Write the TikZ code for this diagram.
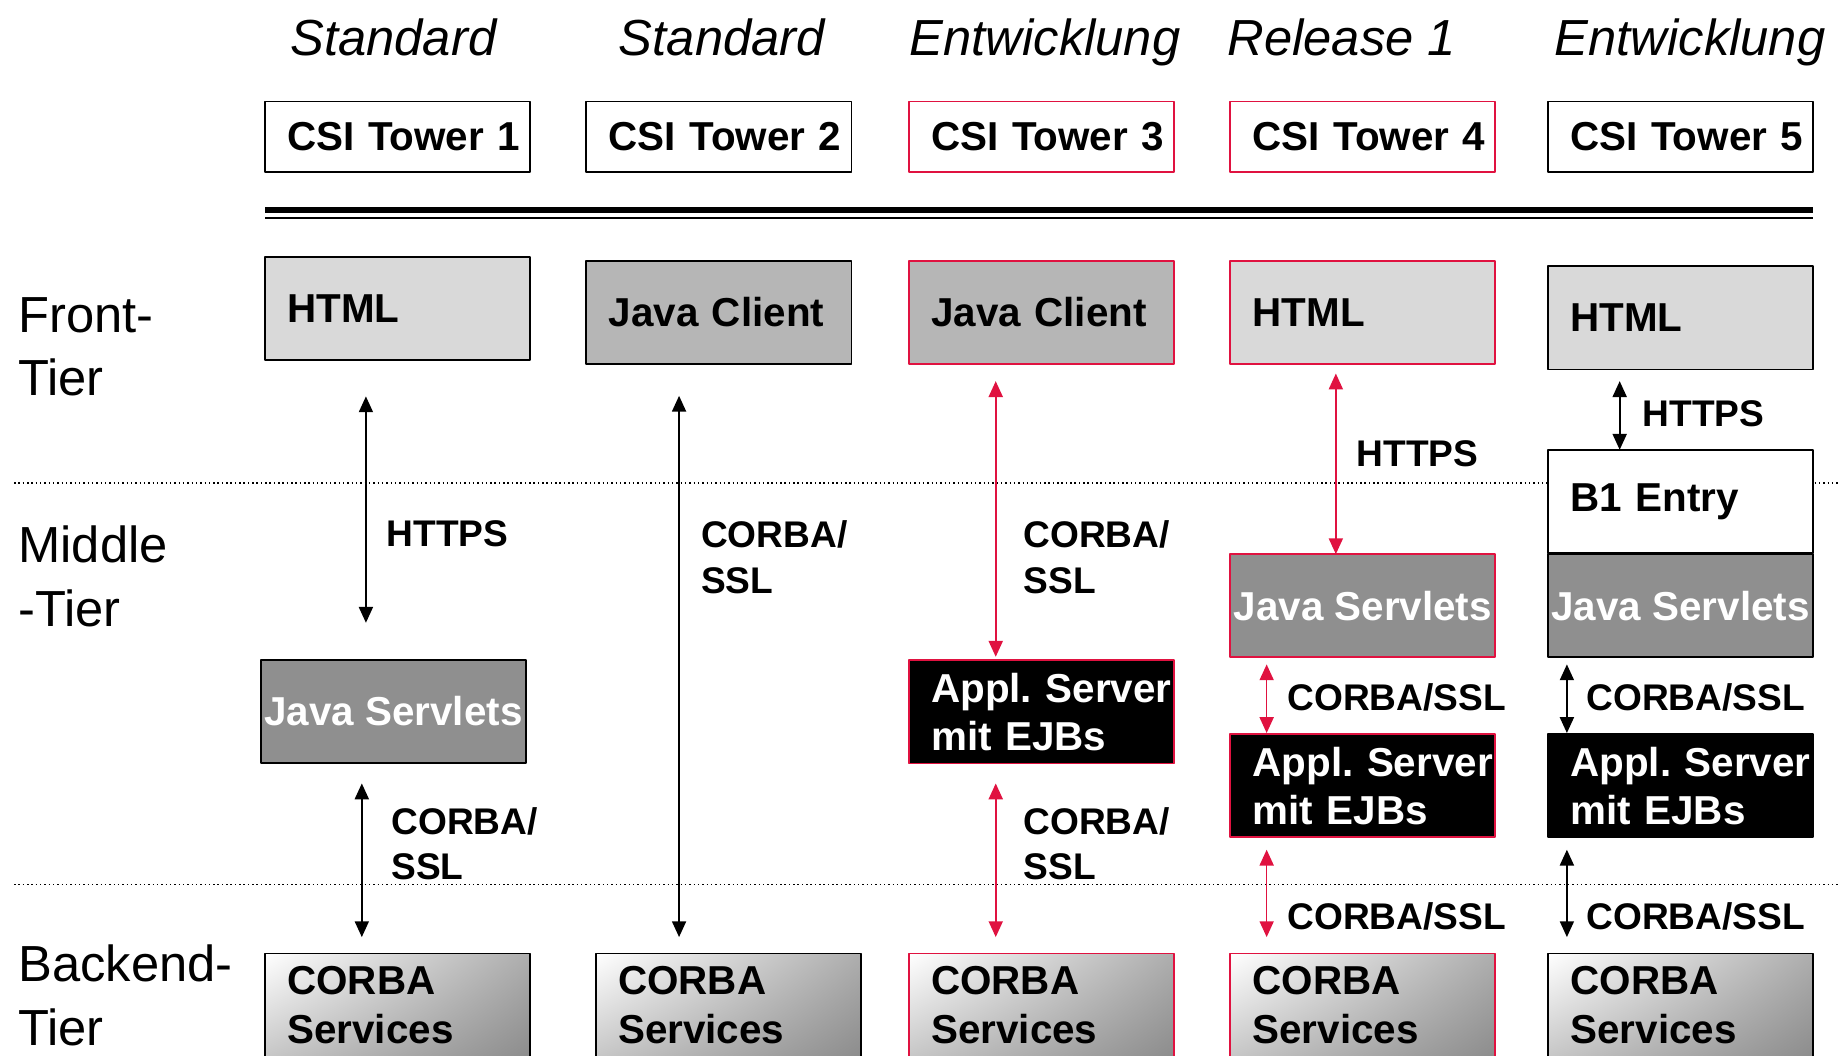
\documentclass[tikz,border=0pt]{standalone}
\usepackage{fontspec}
\setmainfont{Liberation Sans}
\usetikzlibrary{arrows.meta,shadings}
\definecolor{tred}{RGB}{224,18,64}
\definecolor{lgray}{RGB}{217,217,217}
\definecolor{mgray}{RGB}{182,182,182}
\definecolor{dgray}{RGB}{143,143,143}
\newcommand{\boxfont}{\fontsize{9.8}{11.7}\selectfont\bfseries}
\newcommand{\lblfont}{\fontsize{9}{11}\selectfont\bfseries}
\newcommand{\bigfont}{\fontsize{12.3}{15.4}\selectfont}
\begin{document}
\begin{tikzpicture}[x=0.1mm,y=-0.1mm,line join=round,>={Triangle[length=1.35mm,width=1.2mm]},
	box/.style={draw,line width=0.45pt,minimum width=22.6mm,minimum height=8.8mm,inner sep=0pt,outer sep=0pt,font=\boxfont},
	lbox/.style={box,text width=18.8mm,align=left},
	tower/.style={lbox,minimum height=6mm,fill=white},
	html/.style={lbox,fill=lgray},
	client/.style={lbox,fill=mgray},
	servlet/.style={box,fill=dgray,text=white,align=center},
	appl/.style={lbox,fill=black,text=white},
	corba/.style={lbox,shade,upper left=white,upper right=black!32,lower left=black!22,lower right=black!45},
	redbox/.style={draw=tred},
	lbl/.style={font=\lblfont,anchor=north west,inner sep=0pt,align=left},
	tier/.style={font=\bigfont,anchor=north west,inner sep=0pt,align=left},
	title/.style={font=\bigfont\itshape,anchor=base west,inner sep=0pt},
	tierline/.style={line width=0.35pt,dash pattern=on 0.35pt off 0.7pt},
	link/.style={<->,line width=0.4pt},
	redlink/.style={link,draw=tred}]
	\useasboundingbox (0,0) rectangle (1568,900);
	\clip (0,0) rectangle (1568,900);
	%% Spaltenkoepfe
	\node[title] (t1) at (247,47) {Standard};
	\node[title] (t2) at (527,47) {Standard};
	\node[title] (t3) at (775,47) {Entwicklung};
	\node[title] (t4) at (1046,47) {Release 1};
	\node[title] (t5) at (1325,47) {Entwicklung};
	\node[tower] (tw1) at (339,116.5) {CSI~Tower~1};
	\node[tower] (tw2) at (613,116.5) {CSI~Tower~2};
	\node[tower,redbox] (tw3) at (888,116.5) {CSI~Tower~3};
	\node[tower,redbox] (tw4) at (1162,116.5) {CSI~Tower~4};
	\node[tower] (tw5) at (1433,116.5) {CSI~Tower~5};
	\draw[line width=1.45pt] (226,179) -- (1546,179);
	\draw[line width=0.45pt] (226,186) -- (1546,186);
	%% Ebenen
	\draw[tierline] (12,412) -- (1568,412) (12,754) -- (1568,754);
	\node[tier] (front) at (15,253) {Front-\\Tier};
	\node[tier] (middle) at (15,448) {Middle\\-Tier};
	\node[tier] (back) at (15,805) {Backend-\\Tier};
	%% Front-Tier
	\node[html] (html1) at (339,263) {HTML};
	\node[client] (jc2) at (613,266.5) {Java Client};
	\node[client,redbox] (jc3) at (888,266.5) {Java Client};
	\node[html,redbox] (html4) at (1162,266.5) {HTML};
	\node[html] (html5) at (1433,271) {HTML};
	%% Middle-Tier
	\node[servlet] (sv1) at (335.5,606.5) {Java Servlets};
	\node[appl,redbox] (ap3) at (888,607) {Appl.~Server\\mit EJBs};
	\node[servlet,redbox] (sv4) at (1162,516.5) {Java Servlets};
	\node[appl,redbox] (ap4) at (1162,670) {Appl.~Server\\mit EJBs};
	\node[lbox,fill=white] (b1) at (1433,427.5) {B1 Entry};
	\node[servlet] (sv5) at (1433,516.5) {Java Servlets};
	\node[appl] (ap5) at (1433,670) {Appl.~Server\\mit EJBs};
	%% Backend-Tier
	\node[corba] (cs1) at (339,857) {CORBA\\Services};
	\node[corba] (cs2) at (621,857) {CORBA\\Services};
	\node[corba,redbox] (cs3) at (888,857) {CORBA\\Services};
	\node[corba,redbox] (cs4) at (1162,857) {CORBA\\Services};
	\node[corba] (cs5) at (1433,857) {CORBA\\Services};
	%% Verbindungen
	\coordinate (a1) at (312,0);
	\coordinate (a2) at (308.5,0);
	\coordinate (a3) at (579,0);
	\coordinate (a4) at (849,0);
	\coordinate (a5) at (1139,0);
	\coordinate (a6) at (1080,0);
	\coordinate (a7) at (1381,0);
	\coordinate (a8) at (1336,0);
	\draw[link,shorten <=3.1mm,shorten >=3.15mm] (html1.south -| a1) -- (sv1.north -| a1);
	\draw[link,shorten <=1.75mm,shorten >=1.4mm] (sv1.south -| a2) -- (cs1.north -| a2);
	\draw[link,shorten <=2.7mm,shorten >=1.4mm] (jc2.south -| a3) -- (cs2.north -| a3);
	\draw[redlink,shorten <=1.45mm,shorten >=0.3mm] (jc3.south -| a4) -- (ap3.north -| a4);
	\draw[redlink,shorten <=1.7mm,shorten >=1.4mm] (ap3.south -| a4) -- (cs3.north -| a4);
	\draw[redlink,shorten <=0.8mm] (html4.south -| a5) -- (sv4.north -| a5);
	\draw[redlink,shorten <=0.6mm,shorten >=0.1mm] (sv4.south -| a6) -- (ap4.north -| a6);
	\draw[redlink,shorten <=1.05mm,shorten >=1.4mm] (ap4.south -| a6) -- (cs4.north -| a6);
	\draw[link,shorten <=1mm] (html5.south -| a7) -- (b1.north -| a7);
	\draw[link,shorten <=0.6mm,shorten >=0.1mm] (sv5.south -| a8) -- (ap5.north -| a8);
	\draw[link,shorten <=1.05mm,shorten >=1.4mm] (ap5.south -| a8) -- (cs5.north -| a8);
	\node[lbl] (l1) at (329,443.5) {HTTPS};
	\node[lbl] (l2) at (597,443.5) {CORBA/\\SSL};
	\node[lbl] (l3) at (872,443.5) {CORBA/\\SSL};
	\node[lbl] (l4) at (1156,375) {HTTPS};
	\node[lbl] (l5) at (1400,341) {HTTPS};
	\node[lbl] (l6) at (333,687.5) {CORBA/\\SSL};
	\node[lbl] (l7) at (872,687.5) {CORBA/\\SSL};
	\node[lbl] (l8) at (1097,582) {CORBA/SSL};
	\node[lbl] (l9) at (1352,582) {CORBA/SSL};
	\node[lbl] (l10) at (1097,769) {CORBA/SSL};
	\node[lbl] (l11) at (1352,769) {CORBA/SSL};
\end{tikzpicture}
\end{document}
